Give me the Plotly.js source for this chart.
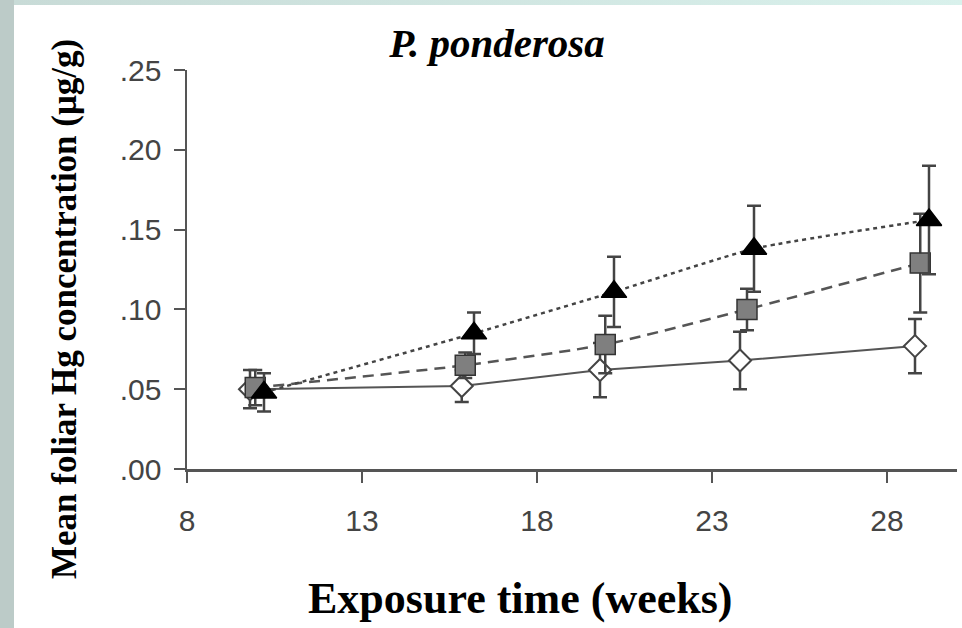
<!DOCTYPE html>
<html><head><meta charset="utf-8">
<script src="https://cdn.plot.ly/plotly-3.0.1.min.js"></script>
<style>
html,body{margin:0;padding:0;width:962px;height:628px;overflow:hidden;background:#fff;}
#lstrip{position:absolute;left:0;top:0;width:14px;height:628px;background:#bccbc8;}
#tstrip{position:absolute;left:14px;top:0;width:948px;height:5px;background:linear-gradient(to right,#c8dbd7,#d9f1ec);}
#chart{position:absolute;left:0;top:0;width:962px;height:628px;}
</style></head><body>
<div id="lstrip"></div><div id="tstrip"></div><div id="chart"></div>
<script>
// Exposure time (weeks) as read for each series (small visual offsets in original)
const weeksDiamond  = [9.8, 15.85, 19.8, 23.8, 28.8];
const weeksSquare   = [9.95, 15.95, 19.95, 24.0, 28.95];
const weeksTriangle = [10.2, 16.2, 20.2, 24.2, 29.2];

// Mean foliar Hg concentration (ug/g)
const hgDiamond  = [0.050, 0.052, 0.062, 0.068, 0.077];
const hgSquare   = [0.051, 0.065, 0.078, 0.100, 0.129];
const hgTriangle = [0.048, 0.085, 0.111, 0.138, 0.156];

// Error bars
const errDiamond  = [0.012, 0.010, 0.017, 0.018, 0.017];
const errSquare   = [0.011, 0.008, 0.018, 0.013, 0.031];
const errTriangle = [0.012, 0.013, 0.022, 0.027, 0.034];

// Tick labels
const yTickVals = [0, 0.05, 0.10, 0.15, 0.20, 0.25];
const yTickText = ['.00', '.05', '.10', '.15', '.20', '.25'];
const xTickVals = [8, 13, 18, 23, 28];
const xTickText = ['8', '13', '18', '23', '28'];

const axisColor = '#555555';
function errBar(arr){
  return {type:'data', array:arr, visible:true, color:'#444444', thickness:2.5, width:7};
}

const traces = [
  {
    x: weeksDiamond, y: hgDiamond, name: 'Series A', type: 'scatter', mode: 'lines+markers',
    line: {color: axisColor, width: 2, dash: 'solid'},
    marker: {symbol: 'diamond', size: 17, color: '#ffffff', line: {color: '#444444', width: 2}},
    error_y: errBar(errDiamond), cliponaxis: false
  },
  {
    x: weeksSquare, y: hgSquare, name: 'Series B', type: 'scatter', mode: 'lines+markers',
    line: {color: axisColor, width: 2.5, dash: '11px,7px', shape: 'spline', smoothing: 0.6},
    marker: {symbol: 'square', size: 20, color: '#7f7f7f', line: {color: '#333333', width: 1.5}},
    error_y: errBar(errSquare), cliponaxis: false
  },
  {
    x: weeksTriangle, y: hgTriangle, name: 'Series C', type: 'scatter', mode: 'lines+markers',
    line: {color: '#444444', width: 2.5, dash: '4px,4px', shape: 'spline', smoothing: 0.5},
    marker: {symbol: 'triangle-up', size: 22, color: '#000000', line: {color: '#000000', width: 1.5}},
    error_y: errBar(errTriangle), cliponaxis: false
  }
];

const L = 187, R = 957, T = 70, B = 469;
const px = v => (v - L) / (R - L);
const py = v => (B - v) / (B - T);

const layout = {
  width: 962, height: 628,
  margin: {l: L, r: 962 - R, t: T, b: 628 - B, pad: 0},
  paper_bgcolor: 'rgba(0,0,0,0)', plot_bgcolor: 'rgba(0,0,0,0)',
  showlegend: false,
  title: {
    text: '<b><i>P. ponderosa</i></b>',
    font: {family: 'Liberation Serif', size: 41, color: '#000000'},
    xref: 'container', yref: 'container', x: 497 / 962, y: 1 - 43 / 628,
    xanchor: 'center', yanchor: 'middle'
  },
  xaxis: {
    range: [8, 30], showgrid: false, zeroline: false,
    showline: true, linecolor: axisColor, linewidth: 2.5,
    ticks: 'outside', ticklen: 11, tickwidth: 2, tickcolor: axisColor,
    tickvals: xTickVals, ticktext: xTickText,
    tickfont: {family: 'Liberation Sans', size: 30, color: '#444444'},
    ticklabelstandoff: 12
  },
  yaxis: {
    range: [0, 0.25], showgrid: false, zeroline: false,
    showline: true, linecolor: axisColor, linewidth: 2.5,
    ticks: 'outside', ticklen: 11, tickwidth: 2, tickcolor: axisColor,
    tickvals: yTickVals, ticktext: yTickText,
    tickfont: {family: 'Liberation Sans', size: 30, color: '#444444'},
    ticklabelstandoff: 6
  },
  annotations: [
    {
      text: '<b>Mean foliar Hg concentration (μg/g)</b>', textangle: -90,
      xref: 'paper', yref: 'paper', x: px(64), y: py(309),
      xanchor: 'center', yanchor: 'middle', showarrow: false,
      font: {family: 'Liberation Serif', size: 35, color: '#000000'}
    },
    {
      text: '<b>Exposure time (weeks)</b>',
      xref: 'paper', yref: 'paper', x: px(520), y: py(598),
      xanchor: 'center', yanchor: 'middle', showarrow: false,
      font: {family: 'Liberation Serif', size: 44, color: '#000000'}
    }
  ]
};

Plotly.newPlot('chart', traces, layout, {displayModeBar: false, staticPlot: true});
</script>
</body></html>
